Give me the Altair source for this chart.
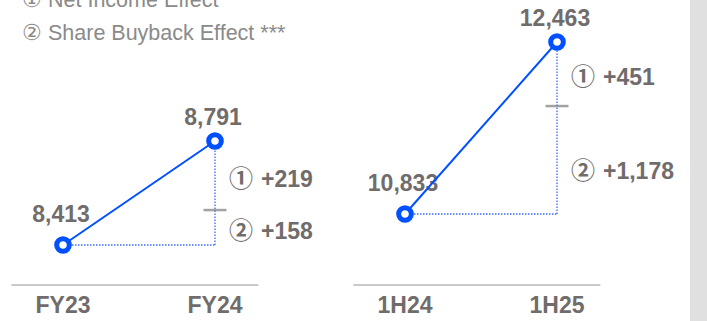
import altair as alt
import pandas as pd

# ---- data ----
periods_a = ["FY23", "FY24"]
values_a = [8413, 8791]
effects_a = ["+219", "+158"]          # (1) net income, (2) share buyback
split_a = 8540                         # position of the divider tick

periods_b = ["1H24", "1H25"]
values_b = [10833, 12463]
effects_b = ["+451", "+1,178"]
split_b = 11856

legend_lines = ["① Net Income Effect", "② Share Buyback Effect ***"]
effect_marks = ["①", "②"]

BLUE = "#0050ff"
GRAY = "#716c6c"
LIGHT = "#8a8a8a"
FONT = "Liberation Sans"


def panel(periods, values, effects, split, xrange, yrange):
    xs = alt.Scale(domain=[0, 1], range=xrange)
    ys = alt.Scale(domain=[values[0], values[1]], range=yrange)
    pts = pd.DataFrame({"period": periods, "idx": [0, 1], "value": values})
    seg = pd.DataFrame({"x0": [0], "x1": [1], "base": [values[0]],
                        "top": [values[1]], "split": [split]})
    ann = pd.DataFrame({
        "mark": effect_marks,
        "label": effects,
        "x1": [1, 1],
        "mid": [split + 0.45 * (values[1] - split), values[0] + 0.4 * (split - values[0])],
    })
    X = lambda f: alt.X(f, type="quantitative", scale=xs, axis=None)
    Y = lambda f: alt.Y(f, type="quantitative", scale=ys, axis=None)

    hdot = alt.Chart(seg).mark_rule(color="#3a6bff", strokeWidth=1.3, strokeDash=[1.5, 1.5]).encode(
        x=X("x0"), x2="x1", y=Y("base"))
    vdot = alt.Chart(seg).mark_rule(color="#3a6bff", strokeWidth=1.3, strokeDash=[1.5, 1.5]).encode(
        x=X("x1"), y=Y("base"), y2="top")
    tick = alt.Chart(seg).mark_tick(orient="horizontal", size=23, thickness=2.5, color="#7a7a7a").encode(
        x=X("x1"), y=Y("split"))
    ann_mark = alt.Chart(ann).mark_text(align="left", baseline="middle", dx=14, dy=1,
                                        font="Noto Sans CJK JP", fontSize=24, fontWeight="bold",
                                        color=GRAY).encode(
        x=X("x1"), y=Y("mid"), text="mark:N")
    ann_num = alt.Chart(ann).mark_text(align="left", baseline="middle", dx=46, dy=1,
                                       font=FONT, fontSize=23, fontWeight="bold", color=GRAY).encode(
        x=X("x1"), y=Y("mid"), text="label:N")
    start_lbl = alt.Chart(pts.iloc[[0]]).mark_text(baseline="alphabetic", dx=-2, dy=-23,
                                                   font=FONT, fontSize=23, fontWeight="bold", color=GRAY).encode(
        x=X("idx"), y=Y("value"), text=alt.Text("value:Q", format=","))
    end_lbl = alt.Chart(pts.iloc[[1]]).mark_text(baseline="alphabetic", dx=-2, dy=-16,
                                                 font=FONT, fontSize=23, fontWeight="bold", color=GRAY).encode(
        x=X("idx"), y=Y("value"), text=alt.Text("value:Q", format=","))
    line = alt.Chart(pts).mark_line(color=BLUE, strokeWidth=2).encode(
        x=X("idx"), y=Y("value"), order="idx:Q")
    points = alt.Chart(pts).mark_point(shape="circle", filled=True, fill="white", stroke=BLUE,
                                       strokeWidth=5, size=160, opacity=1).encode(
        x=X("idx"), y=Y("value"))
    axis_line = alt.Chart(pts.iloc[[0]]).mark_rule(color="#b8b8b8", strokeWidth=1.5).encode(
        x=alt.X("datum_lo:Q", scale=xs, axis=None), x2="datum_hi:Q", y=alt.value(285)
    ).transform_calculate(datum_lo="-0.34", datum_hi="1.285")
    cats = alt.Chart(pts).mark_text(baseline="middle", font=FONT, fontSize=23,
                                    fontWeight="bold", color=GRAY).encode(
        x=X("idx"), y=alt.value(306), text="period:N")
    return alt.layer(hdot, vdot, tick, ann_mark, ann_num, start_lbl, end_lbl,
                     line, points, axis_line, cats)


left = panel(periods_a, values_a, effects_a, split_a, [63, 215], [245, 141])
right = panel(periods_b, values_b, effects_b, split_b, [405, 557], [214, 42])

strip = alt.Chart(pd.DataFrame({"a": [0]})).mark_rect(color="#e0e0e0").encode(
    x=alt.value(690), x2=alt.value(707), y=alt.value(0), y2=alt.value(321))

legend_df = pd.DataFrame({"line": legend_lines, "row": [0, 1]})
legend = alt.Chart(legend_df).mark_text(align="left", baseline="alphabetic", font=FONT,
                                        fontSize=21.5, color=LIGHT).encode(
    x=alt.value(22),
    y=alt.Y("row:Q", scale=alt.Scale(domain=[0, 1], range=[7, 40]), axis=None),
    text="line:N")

chart = alt.layer(strip, legend, left, right).resolve_scale(
    x="independent", y="independent"
).properties(
    width=707, height=321, padding=0,
    autosize=alt.AutoSizeParams(type="none"),
).configure_view(stroke=None)

chart.save("out.html", embed_options={"renderer": "svg", "actions": False})
